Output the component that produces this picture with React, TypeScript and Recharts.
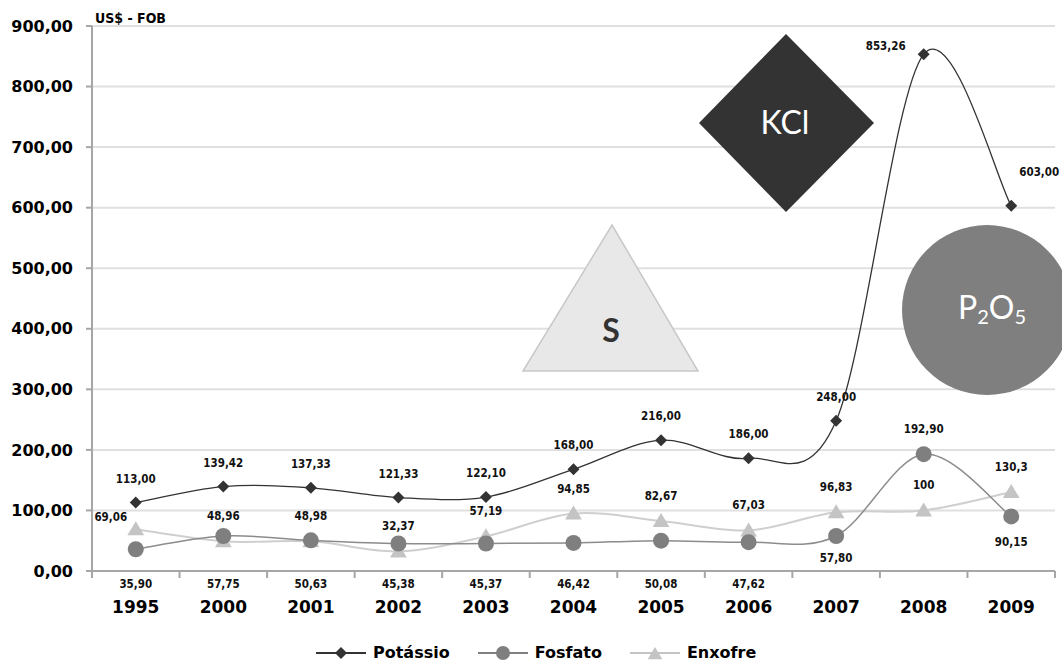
import React from "react";
import { LineChart, Line, XAxis, YAxis, CartesianGrid, Legend, LabelList } from "recharts";

const years = ["1995", "2000", "2001", "2002", "2003", "2004", "2005", "2006", "2007", "2008", "2009"];
const potassio = [113.0, 139.42, 137.33, 121.33, 122.1, 168.0, 216.0, 186.0, 248.0, 853.26, 603.0];
const fosfato = [35.9, 57.75, 50.63, 45.38, 45.37, 46.42, 50.08, 47.62, 57.8, 192.9, 90.15];
const enxofre = [69.06, 48.96, 48.98, 32.37, 57.19, 94.85, 82.67, 67.03, 96.83, 100, 130.3];
const yTicks = [0, 100, 200, 300, 400, 500, 600, 700, 800, 900];

const data = years.map((year, i) => ({
  year,
  potassio: potassio[i],
  fosfato: fosfato[i],
  enxofre: enxofre[i],
}));

// layout
const W = 1062;
const H = 665;
const MARGIN = { top: 26, right: 7, left: 0, bottom: 0 };
const Y_AXIS_W = 92;
const X_AXIS_H = 61;
const LEGEND_H = 33;
const PLOT_BOTTOM = H - LEGEND_H - X_AXIS_H;
const BAND = (W - Y_AXIS_W - MARGIN.right) / years.length;
const FONT = "'DejaVu Sans', Verdana, sans-serif";
const LABEL_FONT = "'DejaVu Sans Condensed', 'DejaVu Sans', sans-serif";

// where each data label sits relative to its point; "axis" = under the x axis line
const potassioLabelPos: [number, number][] = [
  [0, -24], [0, -24], [0, -24], [0, -24], [0, -24], [0, -24],
  [0, -24], [0, -24], [0, -24], [-38, -8], [28, -34],
];
const fosfatoLabelPos: ([number, number] | "axis")[] = [
  "axis", "axis", "axis", "axis", "axis", "axis", "axis", "axis",
  [0, 22], [0, -25], [0, 26],
];
const enxofreLabelPos: [number, number][] = [
  [-25, -12], [0, -25], [0, -25], [0, -25], [0, -25], [0, -25],
  [0, -25], [0, -25], [0, -25], [0, -25], [0, -25],
];

const fix2 = (v: number) => v.toFixed(2).replace(".", ",");
const plain = (v: number) => String(v).replace(".", ",");

// Excel-like smoothed line (Catmull-Rom as cubic beziers)
function excelSmooth(context: any) {
  let pts: [number, number][] = [];
  return {
    areaStart() {},
    areaEnd() {},
    lineStart() {
      pts = [];
    },
    point(x: number, y: number) {
      pts.push([+x, +y]);
    },
    lineEnd() {
      if (!pts.length) return;
      context.moveTo(pts[0][0], pts[0][1]);
      for (let i = 0; i < pts.length - 1; i++) {
        const p0 = pts[i - 1] || pts[i];
        const p1 = pts[i];
        const p2 = pts[i + 1];
        const p3 = pts[i + 2] || p2;
        context.bezierCurveTo(
          p1[0] + (p2[0] - p0[0]) / 6,
          p1[1] + (p2[1] - p0[1]) / 6,
          p2[0] - (p3[0] - p1[0]) / 6,
          p2[1] - (p3[1] - p1[1]) / 6,
          p2[0],
          p2[1]
        );
      }
    },
  };
}

const makeLabel = (pos: any[], fmt: (v: number) => string) => (props: any) => {
  const vb = props.viewBox || {};
  const x = props.x ?? vb.x;
  const y = props.y ?? vb.y;
  const o = pos[props.index];
  if (x == null || y == null || o == null) return null;
  const lx = o === "axis" ? x : x + o[0];
  const ly = o === "axis" ? PLOT_BOTTOM + 13 : y + o[1];
  return (
    <text
      x={lx}
      y={ly}
      textAnchor="middle"
      dominantBaseline="central"
      fontFamily={LABEL_FONT}
      fontWeight="bold"
      fontSize={11.5}
      fill="#111"
    >
      {fmt(Number(props.value))}
    </text>
  );
};

const Diamond = ({ cx, cy, r, fill }: any) => (
  <polygon points={`${cx},${cy - r} ${cx + r},${cy} ${cx},${cy + r} ${cx - r},${cy}`} fill={fill} />
);
const Tri = ({ cx, cy, r, fill }: any) => (
  <polygon points={`${cx},${cy - r} ${cx + r * 1.05},${cy + r * 0.75} ${cx - r * 1.05},${cy + r * 0.75}`} fill={fill} />
);

const potDot = (p: any) => <Diamond key={p.key} cx={p.cx} cy={p.cy} r={6} fill="#333" />;
const fosDot = (p: any) => <circle key={p.key} cx={p.cx} cy={p.cy} r={8} fill="#7f7f7f" />;
const enxDot = (p: any) => <Tri key={p.key} cx={p.cx} cy={p.cy} r={8} fill="#c4c4c4" />;

const YearTick = (props: any) => {
  const { x, y, payload, index } = props;
  const last = index === years.length - 1;
  return (
    <g>
      <line x1={x - BAND / 2} x2={x - BAND / 2} y1={y} y2={y + 7} stroke="#a6a6a6" strokeWidth={2} />
      {last && <line x1={x + BAND / 2} x2={x + BAND / 2} y1={y} y2={y + 7} stroke="#a6a6a6" strokeWidth={2} />}
      <text x={x} y={y + 36} textAnchor="middle" dominantBaseline="central" fontFamily={FONT} fontWeight="bold" fontSize={17} fill="#000">
        {payload.value}
      </text>
    </g>
  );
};

const legendItems = [
  { name: "Potássio", color: "#333", kind: "diamond" },
  { name: "Fosfato", color: "#7f7f7f", kind: "circle" },
  { name: "Enxofre", color: "#c4c4c4", kind: "triangle" },
];

const LegendContent = () => (
  <div style={{ height: LEGEND_H, display: "flex", alignItems: "center", paddingLeft: 316, paddingTop: 8, boxSizing: "border-box" }}>
    {legendItems.map((it, i) => (
      <div key={it.name} style={{ display: "flex", alignItems: "center", marginLeft: i === 0 ? 0 : 28 }}>
        <svg width={50} height={18}>
          <line x1={0} x2={50} y1={9} y2={9} stroke={it.color} strokeWidth={2} />
          {it.kind === "diamond" && <Diamond cx={25} cy={9} r={6} fill={it.color} />}
          {it.kind === "circle" && <circle cx={25} cy={9} r={7} fill={it.color} />}
          {it.kind === "triangle" && <Tri cx={25} cy={10} r={7} fill={it.color} />}
        </svg>
        <span style={{ marginLeft: 7, fontFamily: FONT, fontWeight: "bold", fontSize: 16, color: "#000" }}>{it.name}</span>
      </div>
    ))}
  </div>
);

const Overlay = () => (
  <svg width={W} height={H} style={{ position: "absolute", left: 0, top: 0, pointerEvents: "none" }}>
    <text x={95} y={18} dominantBaseline="central" fontFamily={LABEL_FONT} fontWeight="bold" fontSize={14} fill="#000">
      US$ - FOB
    </text>
    {/* KCl */}
    <polygon points="786,34 874,123 786,212 699,123" fill="#333" />
    <text x={785} y={121} textAnchor="middle" dominantBaseline="central" fontFamily="Lato, sans-serif" fontSize={32} fill="#fff">
      KCl
    </text>
    {/* S */}
    <polygon points="612,225 698,371 523,371" fill="#e8e8e8" stroke="#c8c8c8" strokeWidth={1.5} />
    <text x={611} y={329} textAnchor="middle" dominantBaseline="central" fontFamily="Lato, sans-serif" fontWeight="bold" fontSize={32} fill="#333">
      S
    </text>
    {/* P2O5 */}
    <circle cx={987} cy={310} r={85} fill="#7f7f7f" />
    <text x={992} y={306} textAnchor="middle" dominantBaseline="central" fontFamily="Lato, sans-serif" fontSize={32} fill="#fff">
      P<tspan fontSize={20} dy={10}>2</tspan>
      <tspan dy={-10}>O</tspan>
      <tspan fontSize={20} dy={10}>5</tspan>
    </text>
  </svg>
);

export default function App() {
  return (
    <div style={{ position: "absolute", left: 0, top: 0, width: W, height: H, background: "#fff" }}>
      <LineChart width={W} height={H} data={data} margin={MARGIN}>
        <CartesianGrid vertical={false} stroke="#e0e0e0" strokeWidth={2} />
        <XAxis
          dataKey="year"
          height={X_AXIS_H}
          padding={{ left: BAND / 2, right: BAND / 2 }}
          axisLine={{ stroke: "#a6a6a6", strokeWidth: 2 }}
          tickLine={false}
          tickSize={0}
          tickMargin={0}
          tick={<YearTick />}
          interval={0}
        />
        <YAxis
          width={Y_AXIS_W}
          domain={[0, 900]}
          ticks={yTicks}
          interval={0}
          axisLine={{ stroke: "#a6a6a6", strokeWidth: 2 }}
          tickLine={{ stroke: "#a6a6a6", strokeWidth: 2 }}
          tickSize={6}
          tickMargin={13}
          tickFormatter={fix2}
          tick={{ fontFamily: FONT, fontWeight: "bold", fontSize: 16, fill: "#000" }}
        />
        <Legend verticalAlign="bottom" height={LEGEND_H} content={<LegendContent />} />
        <Line
          dataKey="enxofre"
          name="Enxofre"
          type={excelSmooth as any}
          stroke="#cfcfcf"
          strokeWidth={2}
          dot={enxDot}
          activeDot={false}
          isAnimationActive={false}
        >
          <LabelList dataKey="enxofre" content={makeLabel(enxofreLabelPos, plain)} />
        </Line>
        <Line
          dataKey="fosfato"
          name="Fosfato"
          type={excelSmooth as any}
          stroke="#8c8c8c"
          strokeWidth={1.5}
          dot={fosDot}
          activeDot={false}
          isAnimationActive={false}
        >
          <LabelList dataKey="fosfato" content={makeLabel(fosfatoLabelPos, fix2)} />
        </Line>
        <Line
          dataKey="potassio"
          name="Potássio"
          type={excelSmooth as any}
          stroke="#333"
          strokeWidth={1.3}
          dot={potDot}
          activeDot={false}
          isAnimationActive={false}
        >
          <LabelList dataKey="potassio" content={makeLabel(potassioLabelPos, fix2)} />
        </Line>
      </LineChart>
      <Overlay />
    </div>
  );
}
